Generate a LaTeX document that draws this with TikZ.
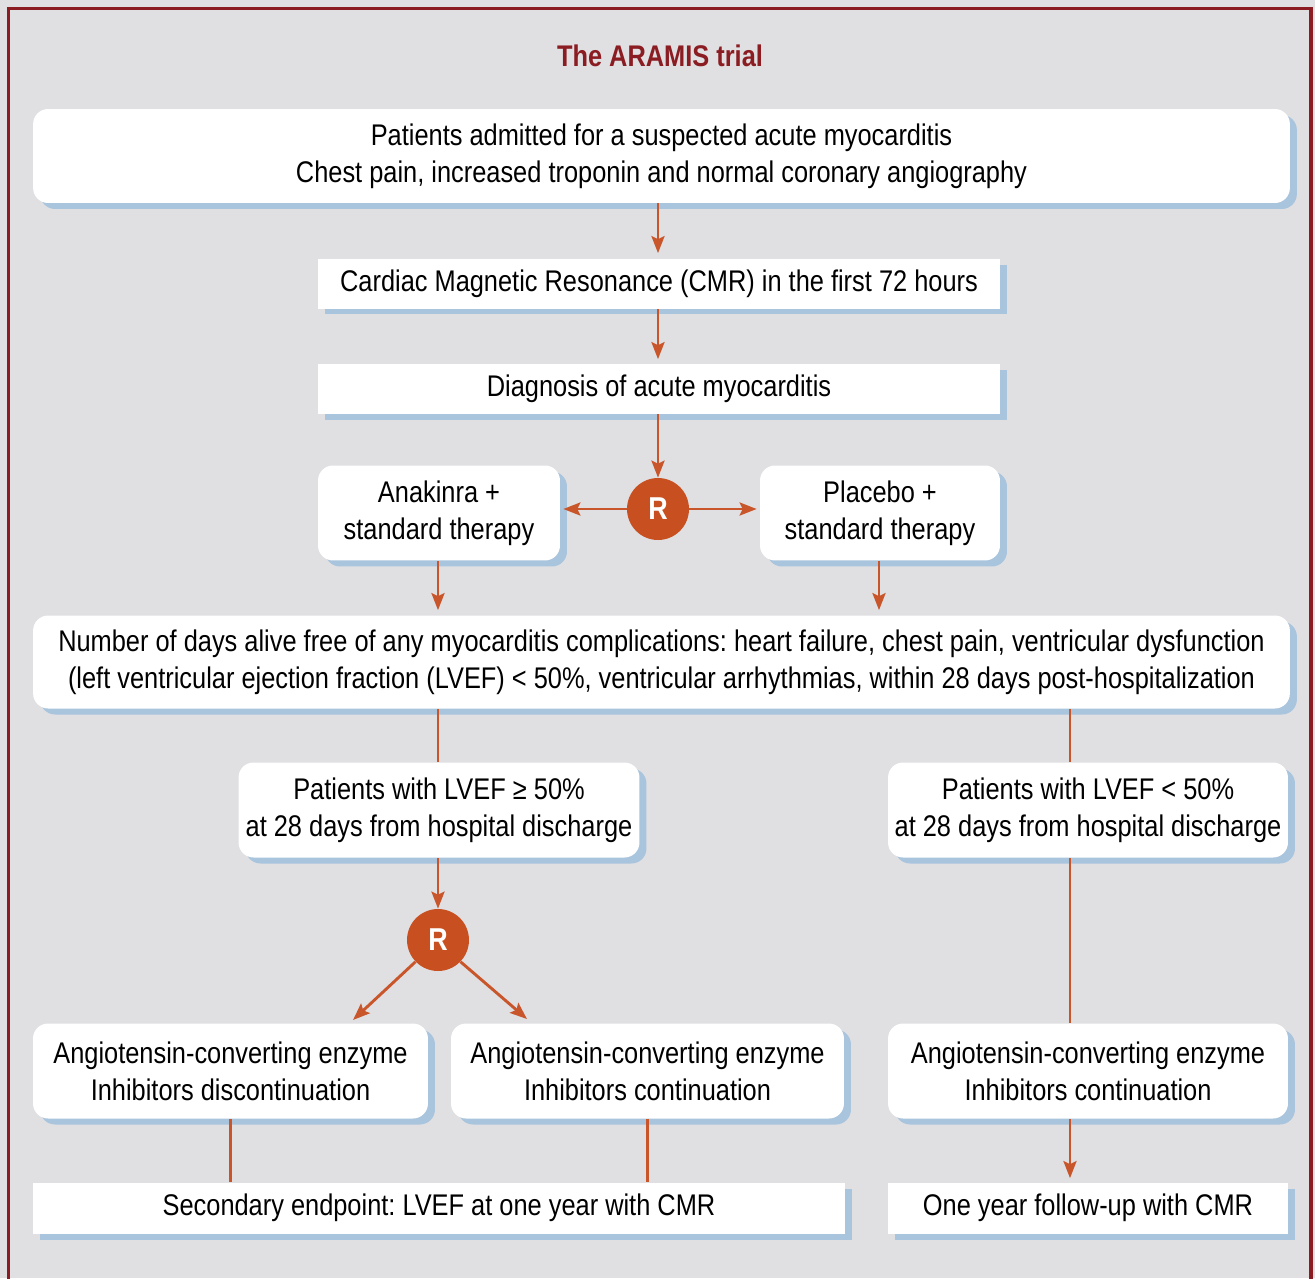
\documentclass[tikz,border=0pt]{standalone}
\usepackage{fontspec}
\setmainfont{Liberation Sans}[FakeStretch=0.85]
\usetikzlibrary{arrows.meta,shadows}
\frenchspacing
\definecolor{bgc}{HTML}{E0E0E3}
\definecolor{framec}{HTML}{8A1C22}
\definecolor{shadowc}{HTML}{A9C4DD}
\definecolor{arrc}{HTML}{C9562A}
\definecolor{rc}{HTML}{C85020}
\definecolor{titlec}{HTML}{8A1C22}
\tikzset{
  x=0.02cm, y=-0.02cm,
  box/.style={fill=white, align=center, inner sep=0pt,
    general shadow={fill=shadowc, shadow xshift=0.14cm, shadow yshift=-0.12cm},
    font=\fontsize{17}{21}\selectfont},
  rbox/.style={box, rounded corners=0.3cm},
  rnode/.style={circle, fill=rc, text=white, minimum size=1.24cm, inner sep=0pt,
    font=\fontsize{18}{18}\selectfont\bfseries},
  conn/.style={draw=arrc, line width=0.058cm},
  arr/.style={conn, -{Stealth[length=0.34cm, width=0.26cm, inset=0.06cm]}},
}
\begin{document}
\begin{tikzpicture}
\useasboundingbox (0,0) rectangle (1315,1278);
\fill[bgc] (0,0) rectangle (1315,1278);
\draw[framec, line width=0.07cm] (8.5,8.5) rectangle (1311,1300);

\node[font=\fontsize{17}{20}\selectfont\bfseries, text=titlec] (title) at (660,56) {The ARAMIS trial};

\node[rbox, minimum width=25.14cm, minimum height=1.88cm] (b1) at (661.5,156)
  {Patients admitted for a suspected acute myocarditis\\Chest pain, increased troponin and normal coronary angiography};
\node[box, minimum width=13.64cm, minimum height=1.0cm] (b2) at (659,283.5)
  {Cardiac Magnetic Resonance (CMR) in the first 72 hours};
\node[box, minimum width=13.64cm, minimum height=1.0cm] (b3) at (659,388.5)
  {Diagnosis of acute myocarditis};
\node[rbox, minimum width=4.84cm, minimum height=1.9cm] (ana) at (439,513)
  {Anakinra +\\standard therapy};
\node[rbox, minimum width=4.8cm, minimum height=1.9cm] (pla) at (880,513)
  {Placebo +\\standard therapy};
\node[rnode] (r1) at (658,509) {R};
\node[rbox, minimum width=25.14cm, minimum height=1.86cm] (big) at (661.5,662)
  {Number of days alive free of any myocarditis complications: heart failure, chest pain, ventricular dysfunction\\(left ventricular ejection fraction (LVEF) < 50\%, ventricular arrhythmias, within 28 days post-hospitalization};
\node[rbox, minimum width=8.02cm, minimum height=1.9cm] (lv1) at (439,810)
  {Patients with LVEF ≥ 50\%\\at 28 days from hospital discharge};
\node[rbox, minimum width=8.0cm, minimum height=1.9cm] (lv2) at (1088,810)
  {Patients with LVEF < 50\%\\at 28 days from hospital discharge};
\node[rnode] (r2) at (438,940) {R};
\node[rbox, minimum width=7.9cm, minimum height=1.9cm] (ace1) at (230.5,1071)
  {Angiotensin-converting enzyme\\Inhibitors discontinuation};
\node[rbox, minimum width=7.86cm, minimum height=1.9cm] (ace2) at (647.5,1071)
  {Angiotensin-converting enzyme\\Inhibitors continuation};
\node[rbox, minimum width=8.0cm, minimum height=1.9cm] (ace3) at (1088,1071)
  {Angiotensin-converting enzyme\\Inhibitors continuation};
\node[box, minimum width=16.24cm, minimum height=1.02cm] (sec) at (439,1208)
  {Secondary endpoint: LVEF at one year with CMR};
\node[box, minimum width=8.0cm, minimum height=1.02cm] (fu) at (1088,1208)
  {One year follow-up with CMR};

\coordinate (cx) at (658,0);
\coordinate (cr) at (1070,0);
\coordinate (cl) at (438,0);
\coordinate (cp) at (879,0);
\coordinate (t1) at (353,1020);
\coordinate (t2) at (527,1019);

\draw[arr, shorten >=0.1cm] (b1.south -| cx) -- (b2.north -| cx);
\draw[arr, shorten >=0.08cm] (b2.south -| cx) -- (b3.north -| cx);
\draw[arr] (b3.south -| cx) -- (r1.north);
\draw[arr, shorten >=0.06cm] (r1.west) -- (ana.east |- r1.west);
\draw[arr, shorten >=0.06cm] (r1.east) -- (pla.west |- r1.east);
\draw[arr, shorten >=0.1cm] (ana.south -| cl) -- (big.north -| cl);
\draw[arr, shorten >=0.1cm] (pla.south -| cp) -- (big.north -| cp);
\draw[conn] (big.south -| cl) -- (lv1.north -| cl);
\draw[conn] (big.south -| cr) -- (lv2.north -| cr);
\draw[conn] (lv2.south -| cr) -- (ace3.north -| cr);
\draw[arr] (lv1.south -| cl) -- (r2.north);
\draw[arr] (r2.224) -- (t1);
\draw[arr] (r2.-44) -- (t2);
\draw[conn] (ace1.south) -- (ace1.south |- sec.north);
\draw[conn] (ace2.south) -- (ace2.south |- sec.north);
\draw[arr, shorten >=0.08cm] (ace3.south -| cr) -- (fu.north -| cr);
\end{tikzpicture}
\end{document}
